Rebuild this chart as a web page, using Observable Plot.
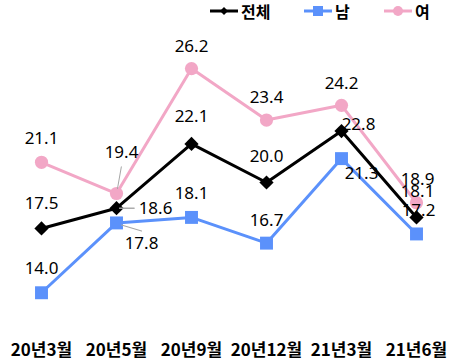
<!DOCTYPE html>
<html>
<head>
<meta charset="utf-8">
<script src="https://cdn.jsdelivr.net/npm/d3@7"></script>
<script src="https://cdn.jsdelivr.net/npm/@observablehq/plot@0.6"></script>
<style>
  html, body { margin: 0; padding: 0; background: #fff; }
  #wrap { position: relative; width: 461px; height: 360px; font-family: "Noto Sans CJK KR", "Noto Sans", sans-serif; }
  #legend { position: absolute; top: 0; left: 0; width: 461px; height: 24px; }
  .li { position: absolute; top: 1px; display: flex; align-items: center; font-weight: bold; font-size: 16px; line-height: 20px; }
  .li svg { margin-right: 3px; }
</style>
</head>
<body>
<div id="wrap">
  <div id="chart"></div>
  <div id="legend"></div>
</div>
<script>
const categories = ["20년3월", "20년5월", "20년9월", "20년12월", "21년3월", "21년6월"];
const seriesNames = ["전체", "남", "여"];
const totalValues = [17.5, 18.6, 22.1, 20.0, 22.8, 18.1];
const maleValues = [14.0, 17.8, 18.1, 16.7, 21.3, 17.2];
const femaleValues = [21.1, 19.4, 26.2, 23.4, 24.2, 18.9];

// label placement (pixel offsets), kept apart from the data
const labelOffsets = {
  "전체": [[0,-25],[39,0],[0,-27],[0,-26],[17,-7],[1,-26]],
  "남":   [[0,-24],[25,21],[0,-24],[0,-23],[20,15],[2,-23]],
  "여":   [[0,-24],[5,-41],[0,-22],[0,-22],[0,-22],[1,-23]]
};
const colors = {"전체": "#000000", "남": "#5B91FB", "여": "#F2A7C6"};
const symbols = {"전체": "diamond2", "남": "square", "여": "circle"};
const radii = {"전체": 6.4, "남": 7.3, "여": 6.6};

const valuesBy = {"전체": totalValues, "남": maleValues, "여": femaleValues};
const rows = [];
for (const s of seriesNames) {
  valuesBy[s].forEach((v, i) => rows.push({series: s, cat: categories[i], value: v, dx: labelOffsets[s][i][0], dy: labelOffsets[s][i][1]}));
}

const drawOrder = ["여", "남", "전체"];
const marks = [];
for (const s of drawOrder) {
  const d = rows.filter(r => r.series === s);
  marks.push(Plot.line(d, {x: "cat", y: "value", stroke: colors[s], strokeWidth: 3}));
  marks.push(Plot.dot(d, {x: "cat", y: "value", symbol: symbols[s], r: radii[s], fill: colors[s], stroke: "none"}));
}
// leader lines for the crowded 20년5월 labels
const leaders = [
  {series: "여", idx: 1, dx: 1, dy: -5, len: 22, rot: 10},
  {series: "전체", idx: 1, dx: 3, dy: 0, len: 15, rot: 90},
  {series: "남", idx: 1, dx: 5, dy: 2, len: 21, rot: 107}
];
for (const l of leaders) {
  const d = rows.filter(r => r.series === l.series && r.cat === categories[l.idx]);
  marks.push(Plot.vector(d, {x: "cat", y: "value", length: l.len, rotate: l.rot, shape: "spike", r: 0, anchor: "start", stroke: "#a6a6a6", strokeWidth: 1, dx: l.dx, dy: l.dy}));
}
for (const r of rows) {
  marks.push(Plot.text([r], {x: "cat", y: "value", text: d => d.value.toFixed(1), dx: r.dx, dy: r.dy, fill: "#000", fontSize: 17, fontFamily: "'Noto Sans', 'Noto Sans CJK KR', sans-serif"}));
}
marks.push(Plot.axisX({tickSize: 0, tickPadding: 14, fontSize: 17, fontWeight: "bold", fill: "#000", label: null}));

const chart = Plot.plot({
  width: 461,
  height: 360,
  marginLeft: 2,
  marginRight: 6,
  marginTop: 35,
  marginBottom: 31,
  x: {type: "point", domain: categories, padding: 0.5, axis: null, label: null},
  y: {domain: [12, 28], axis: null},
  style: {fontFamily: "'Noto Sans CJK KR', 'Noto Sans', sans-serif", background: "#fff", color: "#000", overflow: "visible"},
  marks
});
document.getElementById("chart").appendChild(chart);

// legend
const legendPos = {"전체": 210, "남": 304, "여": 384};
const legend = document.getElementById("legend");
for (const s of seriesNames) {
  const item = document.createElement("div");
  item.className = "li";
  item.style.left = legendPos[s] + "px";
  let marker;
  if (s === "전체") marker = `<polygon points="14,6 18,10 14,14 10,10" fill="${colors[s]}"/>`;
  else if (s === "남") marker = `<rect x="9" y="5" width="10" height="10" fill="${colors[s]}"/>`;
  else marker = `<circle cx="14" cy="10" r="5" fill="${colors[s]}"/>`;
  item.innerHTML = `<svg width="28" height="20"><line x1="0" y1="10" x2="28" y2="10" stroke="${colors[s]}" stroke-width="3"/>${marker}</svg><span>${s}</span>`;
  legend.appendChild(item);
}
</script>
</body>
</html>
